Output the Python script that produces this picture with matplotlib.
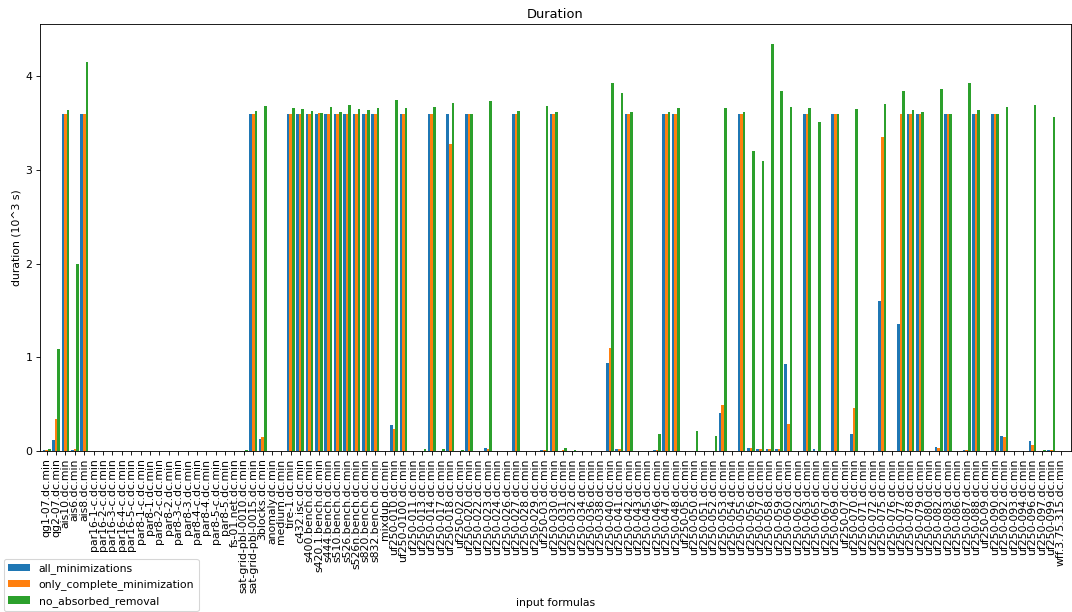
#!/usr/bin/python3

import numpy as np
import matplotlib
matplotlib.use('Agg')
import matplotlib.pyplot as plt

DPI = 78

formulas = [
    'qg1-07', 'qg2-07', 'ais10', 'ais6', 'ais8',
    'par16-1-c', 'par16-2-c', 'par16-3-c', 'par16-4-c', 'par16-5-c',
    'par8-1-c', 'par8-1', 'par8-2-c', 'par8-2', 'par8-3-c', 'par8-3',
    'par8-4-c', 'par8-4', 'par8-5-c', 'par8-5', 'fs-01.net',
    'sat-grid-pbl-0010', 'sat-grid-pbl-0015', '3blocks', 'anomaly', 'medium',
    'tire-1', 'c432.isc', 's400.bench', 's420.1.bench', 's444.bench',
    's510.bench', 's526.bench', 's526n.bench', 's820.bench', 's832.bench',
    'mixdup', 'uf250-010', 'uf250-0100', 'uf250-011', 'uf250-013',
    'uf250-014', 'uf250-017', 'uf250-018', 'uf250-02', 'uf250-020',
    'uf250-022', 'uf250-023', 'uf250-024', 'uf250-026', 'uf250-027',
    'uf250-028', 'uf250-029', 'uf250-03', 'uf250-030', 'uf250-031',
    'uf250-032', 'uf250-034', 'uf250-036', 'uf250-038', 'uf250-040',
    'uf250-041', 'uf250-042', 'uf250-043', 'uf250-045', 'uf250-046',
    'uf250-047', 'uf250-048', 'uf250-05', 'uf250-050', 'uf250-051',
    'uf250-052', 'uf250-053', 'uf250-054', 'uf250-055', 'uf250-056',
    'uf250-057', 'uf250-058', 'uf250-059', 'uf250-060', 'uf250-062',
    'uf250-063', 'uf250-065', 'uf250-067', 'uf250-069', 'uf250-07',
    'uf250-070', 'uf250-071', 'uf250-072', 'uf250-075', 'uf250-076',
    'uf250-077', 'uf250-078', 'uf250-079', 'uf250-080', 'uf250-082',
    'uf250-083', 'uf250-086', 'uf250-087', 'uf250-088', 'uf250-09',
    'uf250-090', 'uf250-092', 'uf250-093', 'uf250-094', 'uf250-096',
    'uf250-097', 'uf250-099', 'wff.3.75.315',
]
labels = [f + '.dc.min' for f in formulas]

# duration in 10^3 s, one value per formula
all_minimizations = [
    0.01, 0.12, 3.6, 0.01, 3.6, 0, 0, 0, 0, 0,
    0, 0, 0, 0, 0, 0, 0, 0, 0, 0,
    0, 0, 3.6, 0.13, 0, 0, 3.6, 3.6, 3.6, 3.6,
    3.6, 3.6, 3.6, 3.6, 3.6, 3.6, 0, 0.28, 3.6, 0,
    0, 3.6, 0, 3.6, 0, 3.6, 0, 0.03, 0, 0,
    3.6, 0, 0, 0.01, 3.6, 0, 0, 0, 0, 0,
    0.94, 0.02, 3.6, 0, 0, 0.01, 3.6, 3.6, 0, 0,
    0, 0, 0.41, 0, 3.6, 0.03, 0.02, 0.02, 0.02, 0.93,
    0, 3.6, 0.02, 0, 3.6, 0, 0.18, 0, 0, 1.6,
    0, 1.36, 3.6, 3.6, 0, 0.04, 3.6, 0, 0.01, 3.6,
    0, 3.6, 0.16, 0, 0, 0.11, 0, 0.01, 0,
]
only_complete_minimization = [
    0.01, 0.34, 3.6, 0.02, 3.6, 0, 0, 0, 0, 0,
    0, 0, 0, 0, 0, 0, 0, 0, 0, 0,
    0, 0, 3.6, 0.15, 0, 0, 3.6, 3.6, 3.6, 3.61,
    3.6, 3.6, 3.6, 3.6, 3.6, 3.6, 0, 0.24, 3.6, 0,
    0, 3.6, 0, 3.28, 0, 3.6, 0, 0.02, 0, 0,
    3.6, 0, 0, 0.01, 3.6, 0.01, 0, 0, 0, 0,
    1.10, 0.02, 3.6, 0, 0, 0.01, 3.6, 3.6, 0, 0,
    0, 0, 0.49, 0, 3.6, 0.03, 0.02, 0.02, 0.02, 0.29,
    0, 3.6, 0, 0, 3.6, 0, 0.46, 0, 0, 3.35,
    0, 3.6, 3.6, 3.6, 0, 0.03, 3.6, 0, 0.01, 3.6,
    0, 3.6, 0.15, 0, 0, 0.06, 0, 0.01, 0,
]
no_absorbed_removal = [
    0.02, 1.09, 3.64, 2.0, 4.15, 0, 0, 0, 0, 0,
    0, 0, 0, 0, 0, 0, 0, 0, 0, 0,
    0, 0.01, 3.63, 3.68, 0, 0, 3.66, 3.65, 3.63, 3.61,
    3.67, 3.62, 3.69, 3.65, 3.64, 3.66, 0, 3.75, 3.66, 0,
    0.02, 3.67, 0.02, 3.71, 0.01, 3.6, 0, 3.74, 0, 0,
    3.63, 0, 0, 3.68, 3.62, 0.03, 0.01, 0, 0, 0,
    3.93, 3.82, 3.62, 0, 0, 0.18, 3.62, 3.66, 0, 0.21,
    0, 0.16, 3.66, 0, 3.62, 3.2, 3.09, 4.34, 3.84, 3.67,
    0, 3.66, 3.51, 0, 3.6, 0, 3.65, 0, 0, 3.7,
    0, 3.84, 3.64, 3.62, 0, 3.86, 3.6, 0, 3.93, 3.64,
    0, 3.6, 3.67, 0, 0, 3.69, 0.01, 3.56, 0,
]

series = [
    ('all_minimizations', all_minimizations, '#1f77b4'),
    ('only_complete_minimization', only_complete_minimization, '#ff7f0e'),
    ('no_absorbed_removal', no_absorbed_removal, '#2ca02c'),
]

width = 0.28
x = np.arange(len(labels))

fig = plt.figure(figsize=(1072 / DPI, 612 / DPI), dpi=DPI)
ax = fig.add_axes([40 / 1072, 1 - 451 / 612, 1031 / 1072, 427 / 612])

for i, (name, vals, color) in enumerate(series):
    ax.bar(x + (i - 1) * width, vals, width, label=name, color=color)

ax.set_xticks(x)
ax.set_xticklabels(labels, rotation=90)
ax.set_xlim(-0.71, 109.1)
ax.set_title('Duration')
ax.set_xlabel('input formulas')
ax.set_ylabel('duration (10^3 s)')

fig.legend(loc='lower left', bbox_to_anchor=(4 / 1072, 1 / 612), borderaxespad=0)

fig.savefig('out.png', dpi=DPI)
